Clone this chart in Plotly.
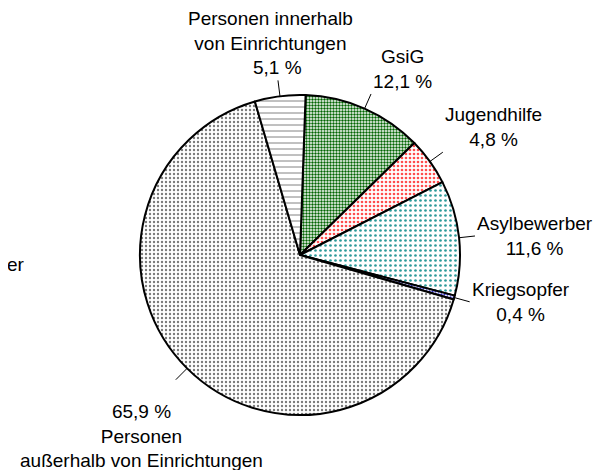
# Kreisdiagramm: Verteilung der Empfänger nach Gruppen
import math
import plotly.graph_objects as go

# Daten (im Uhrzeigersinn, beginnend oben)
gruppen = ["GsiG", "Jugendhilfe", "Asylbewerber", "Kriegsopfer",
           "Personen<br>außerhalb von Einrichtungen",
           "Personen innerhalb<br>von Einrichtungen"]
anteile = [12.1, 4.8, 11.6, 0.4, 65.9, 5.1]

# Seite hat 8px Rand -> Figur etwas kleiner, Koordinaten im Fenster
RAND = 8
W, H = 604 - RAND, 470 - RAND
CX, CY, R = 300, 255, 160   # Kreismitte / Radius (Fensterpixel)
START = 2                   # Drehung in Grad

muster = [".", ".", ".", ".", ".", "-"]
muster_farbe = ["#006400", "#ff4d4d", "#2e9a9a", "#2f2fc8", "#7a7a7a", "#505050"]
muster_groesse = [3, 4, 5, 3, 4, 6]
muster_dichte = [0.5, 0.35, 0.22, 0.45, 0.28, 0.12]


def px2paper(x, y):
    return (x - RAND) / W, 1 - (y - RAND) / H


d_x0, d_y0 = px2paper(CX - R, CY + R)
d_x1, d_y1 = px2paper(CX + R, CY - R)

fig = go.Figure(go.Pie(
    labels=gruppen,
    values=anteile,
    sort=False,
    direction="clockwise",
    rotation=START,
    textinfo="none",
    hoverinfo="skip",
    domain=dict(x=[d_x0, d_x1], y=[d_y0, d_y1]),
    marker=dict(
        colors=["white"] * len(anteile),
        line=dict(color="black", width=2),
        pattern=dict(shape=muster, fgcolor=muster_farbe, bgcolor="white",
                     size=muster_groesse, solidity=muster_dichte),
    ),
))


def fmt(v):
    return f"{v:.1f}".replace(".", ",") + " %"


# Beschriftungen mit Führungslinien
ausrichtung = [("left", "bottom"), ("left", "bottom"), ("left", "middle"),
               ("left", "middle"), ("center", "top"), ("center", "bottom")]
gesamt = sum(anteile)
winkel = START
schrift = dict(family="Liberation Sans, Arial", size=19, color="black")
for i, (name, v) in enumerate(zip(gruppen, anteile)):
    span = v / gesamt * 360
    mitte = math.radians(winkel + span / 2)
    winkel += span
    x0, y0 = CX + R * math.sin(mitte), CY - R * math.cos(mitte)
    x1, y1 = CX + (R + 16) * math.sin(mitte), CY - (R + 16) * math.cos(mitte)
    a0, b0 = px2paper(x0, y0)
    a1, b1 = px2paper(x1, y1)
    fig.add_shape(type="line", xref="paper", yref="paper",
                  x0=a0, y0=b0, x1=a1, y1=b1,
                  line=dict(color="black", width=1))
    xa, ya = ausrichtung[i]
    if i == 4:
        fig.add_annotation(x=a1, y=b1, xref="paper", yref="paper",
                           text=fmt(v) + "<br>" + name, showarrow=False,
                           xanchor=xa, yanchor=ya, xshift=-34, yshift=-19,
                           font=schrift, align="center")
    elif i == 5:
        fig.add_annotation(x=a1, y=b1, xref="paper", yref="paper",
                           text=fmt(v), showarrow=False,
                           xanchor=xa, yanchor=ya, font=schrift)
        fig.add_annotation(x=a1, y=b1, xref="paper", yref="paper",
                           text=name, showarrow=False, borderpad=0,
                           xanchor=xa, yanchor=ya, xshift=-7, yshift=25,
                           font=schrift, align="center")
    else:
        fig.add_annotation(x=a1, y=b1, xref="paper", yref="paper",
                           text=name + "<br>" + fmt(v), showarrow=False,
                           xanchor=xa, yanchor=ya, font=schrift, align="center")

# abgeschnittene Beschriftung am linken Rand
fig.add_annotation(x=0, y=px2paper(0, 264)[1], xref="paper", yref="paper",
                   text="er", showarrow=False, xanchor="left", yanchor="middle",
                   xshift=-3, font=schrift)

fig.update_layout(
    width=W, height=H,
    margin=dict(l=0, r=0, t=0, b=0),
    showlegend=False,
    paper_bgcolor="white",
    plot_bgcolor="white",
)

fig.write_html("out.html")
